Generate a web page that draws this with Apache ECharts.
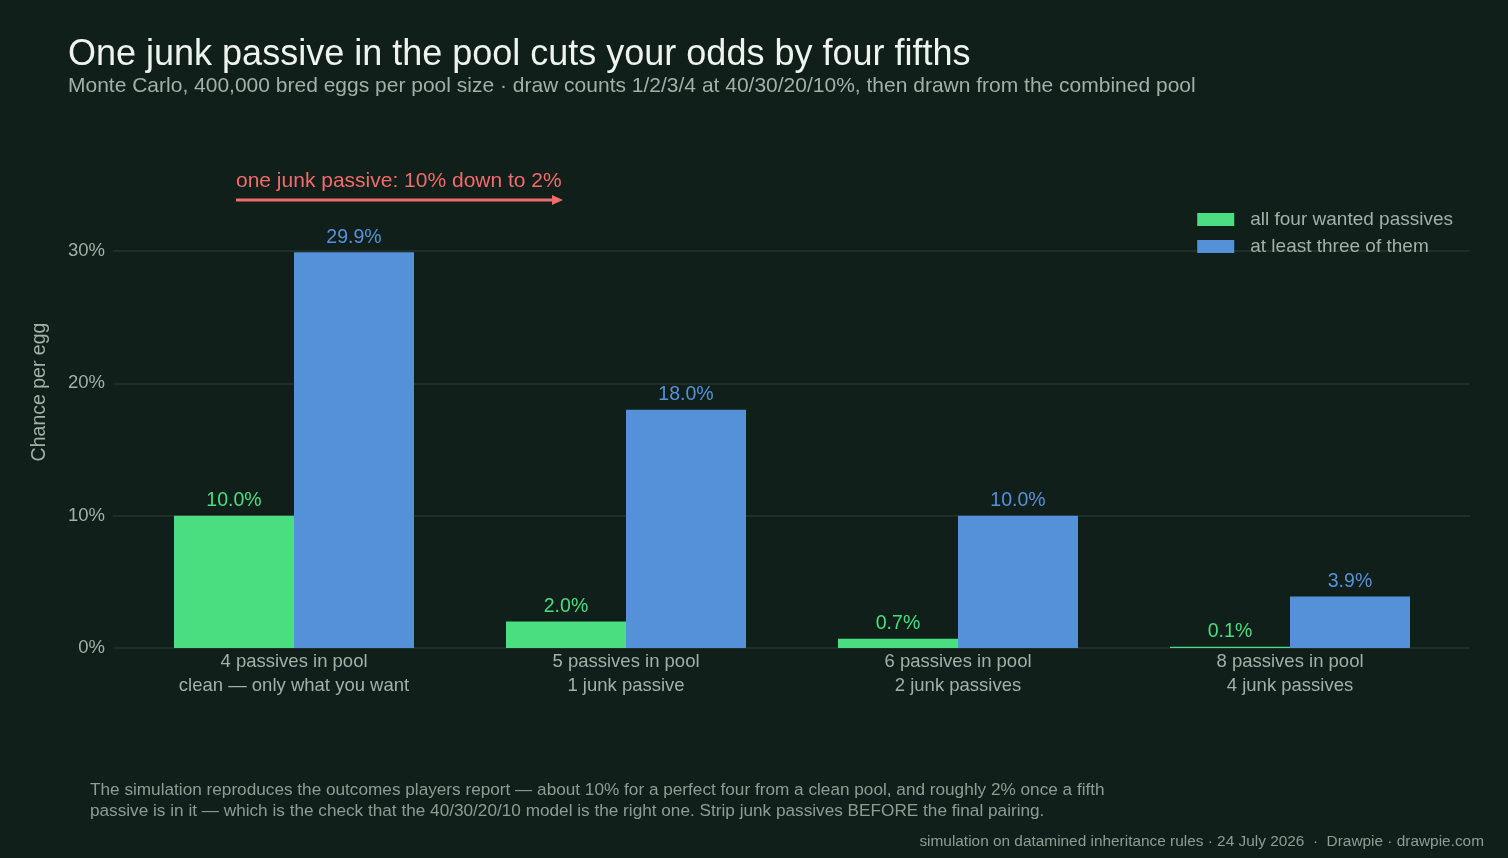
<!DOCTYPE html>
<html>
<head>
<meta charset="utf-8">
<script src="https://cdn.jsdelivr.net/npm/echarts@6/dist/echarts.min.js"></script>
<style>
  html, body { margin: 0; padding: 0; background: #111f1a; }
  #chart { width: 1508px; height: 858px; }
</style>
</head>
<body>
<div id="chart"></div>
<script>
// pool sizes on the x axis
const poolSizes = ['4 passives in pool', '5 passives in pool', '6 passives in pool', '8 passives in pool']
const poolNotes = ['clean — only what you want', '1 junk passive', '2 junk passives', '4 junk passives']
// chance per egg, in percent
const allFour = [10.0, 2.0, 0.7, 0.1]
const atLeastThree = [29.9, 18.0, 10.0, 3.9]
const yTicks = [0, 10, 20, 30]

const FONT = '"Liberation Sans", Arial, sans-serif'
const GREEN = '#4ade80'
const BLUE = '#5591d9'
const GREY = '#a3b0a8'
const GRID_LINE = '#24342d'

const categories = poolSizes.map((p, i) => p + '\n' + poolNotes[i])

const chart = echarts.init(document.getElementById('chart'))

chart.setOption({
    backgroundColor: '#111f1a',
    textStyle: { fontFamily: FONT },
    title: [
        {
            text: 'One junk passive in the pool cuts your odds by four fifths',
            left: 63, top: 32,
            textStyle: { color: '#eef3ef', fontSize: 36, fontWeight: 'normal', fontFamily: FONT }
        },
        {
            text: 'Monte Carlo, 400,000 bred eggs per pool size · draw counts 1/2/3/4 at 40/30/20/10%, then drawn from the combined pool',
            left: 63, top: 71,
            textStyle: { color: GREY, fontSize: 21, fontWeight: 'normal', fontFamily: FONT }
        }
    ],
    legend: {
        orient: 'vertical',
        right: 50, top: 205,
        itemWidth: 37, itemHeight: 13,
        itemGap: 8,
        icon: 'rect',
        textStyle: { color: GREY, fontSize: 19, lineHeight: 19, padding: [0, 0, 0, 11] },
        data: ['all four wanted passives', 'at least three of them']
    },
    grid: [
        // wide grid only for gridlines and y tick labels
        { left: 113, right: 38, top: 251, bottom: 210 },
        // bars
        { left: 128, right: 52, top: 251, bottom: 210 }
    ],
    xAxis: [
        { gridIndex: 0, type: 'category', data: categories, show: false },
        {
            gridIndex: 1, type: 'category', data: categories,
            axisLine: { show: false },
            axisTick: { show: false },
            axisLabel: { color: GREY, fontSize: 18.5, lineHeight: 24, margin: 2 }
        }
    ],
    yAxis: [
        {
            gridIndex: 0, type: 'value', min: yTicks[0], max: yTicks[yTicks.length - 1], interval: 10,
            axisLine: { show: false },
            axisTick: { show: false },
            axisLabel: { color: GREY, fontSize: 18.5, margin: 8, formatter: '{value}%' },
            splitLine: { lineStyle: { color: GRID_LINE, width: 1.5 } }
        },
        {
            gridIndex: 1, type: 'value', min: 0, max: 30, interval: 10, show: false,
            splitLine: { show: false }
        }
    ],
    series: [
        {
            name: 'all four wanted passives',
            type: 'bar',
            xAxisIndex: 1, yAxisIndex: 1,
            data: allFour,
            barWidth: 120,
            barGap: '0%',
            itemStyle: { color: GREEN },
            label: {
                show: true, position: 'top', distance: 5,
                color: GREEN, fontSize: 19.5,
                formatter: p => p.value.toFixed(1) + '%'
            }
        },
        {
            name: 'at least three of them',
            type: 'bar',
            xAxisIndex: 1, yAxisIndex: 1,
            data: atLeastThree,
            barWidth: 120,
            barGap: '0%',
            itemStyle: { color: BLUE },
            label: {
                show: true, position: 'top', distance: 5,
                color: BLUE, fontSize: 19.5,
                formatter: p => p.value.toFixed(1) + '%'
            }
        }
    ],
    graphic: [
        // y axis name
        {
            type: 'text', x: 40, y: 392, rotation: Math.PI / 2,
            style: { text: 'Chance per egg', fill: GREY, fontSize: 19.5, fontFamily: FONT, align: 'center', verticalAlign: 'middle' }
        },
        // annotation
        {
            type: 'text', x: 236, y: 181,
            style: { text: 'one junk passive: 10% down to 2%', fill: '#f06b6b', fontSize: 21, fontFamily: FONT, verticalAlign: 'middle' }
        },
        {
            type: 'line',
            shape: { x1: 236, y1: 200, x2: 554, y2: 200 },
            style: { stroke: '#f06b6b', lineWidth: 3 }
        },
        {
            type: 'polygon',
            shape: { points: [[552, 195], [563, 200], [552, 205]] },
            style: { fill: '#f06b6b' }
        },
        // footnote
        {
            type: 'text', left: 90, top: 780,
            style: {
                text: 'The simulation reproduces the outcomes players report — about 10% for a perfect four from a clean pool, and roughly 2% once a fifth\npassive is in it — which is the check that the 40/30/20/10 model is the right one. Strip junk passives BEFORE the final pairing.',
                fill: '#8f9c94', fontSize: 17.2, lineHeight: 21, fontFamily: FONT
            }
        },
        {
            type: 'text', right: 24, top: 834,
            style: {
                text: 'simulation on datamined inheritance rules · 24 July 2026  ·  Drawpie · drawpie.com',
                fill: '#8f9c94', fontSize: 15.4, fontFamily: FONT
            }
        }
    ]
})
</script>
</body>
</html>
